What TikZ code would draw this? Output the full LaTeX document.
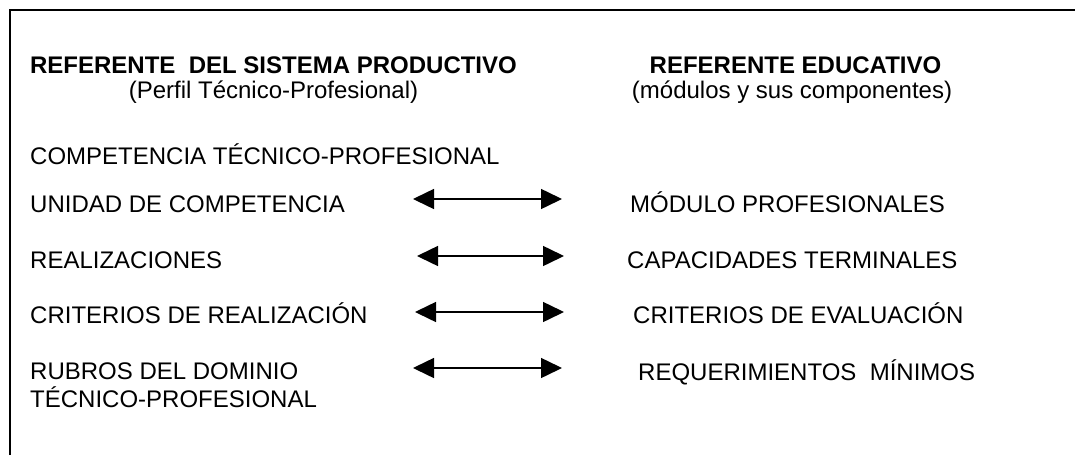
\documentclass[tikz,border=0pt]{standalone}
\usepackage{fontspec}
\setmainfont{Liberation Sans}
\usetikzlibrary{arrows.meta}
\begin{document}
\begin{tikzpicture}[x=1pt,y=-1pt,
  txt/.style={inner sep=0pt, anchor=base west, font=\fontsize{24}{27.6}\selectfont},
  ttl/.style={inner sep=0pt, anchor=base, font=\fontsize{24}{27.6}\selectfont\bfseries},
  sub/.style={inner sep=0pt, anchor=base, font=\fontsize{24}{27.6}\selectfont},
  rel/.style={line width=1.5pt, {Triangle[length=21pt,width=20pt]}-{Triangle[length=21pt,width=20pt]}}]
\useasboundingbox (0,0) rectangle (1075,455);
\draw[line width=2pt] (9.5,455) -- (9.5,9.5) -- (1075,9.5);
% headings
\node[ttl] (tl) at (273.5,73) {REFERENTE\ \ DEL SISTEMA PRODUCTIVO};
\node[sub] (sl) at (273.5,98) {(Perfil Técnico-Profesional)};
\node[ttl] (tr) at (795.5,73) {REFERENTE EDUCATIVO};
\node[sub] (sr) at (792,98) {(módulos y sus componentes)};
% left column
\node[txt] (comp) at (30,164) {COMPETENCIA TÉCNICO-PROFESIONAL};
\node[txt] (unid) at (30,212) {UNIDAD DE COMPETENCIA};
\node[txt] (real) at (30,268) {REALIZACIONES};
\node[txt] (crit) at (30,323) {CRITERIOS DE REALIZACIÓN};
\node[txt] (rub1) at (30,379) {RUBROS DEL DOMINIO};
\node[txt] (rub2) at (30,407) {TÉCNICO-PROFESIONAL};
% right column
\node[txt] (mod) at (630,212) {MÓDULO PROFESIONALES};
\node[txt] (cap) at (627,268) {CAPACIDADES TERMINALES};
\node[txt] (eval) at (633,323) {CRITERIOS DE EVALUACIÓN};
\node[txt] (req) at (638,380) {REQUERIMIENTOS\ \ MÍNIMOS};
% arrow ends
\coordinate (a1l) at (413,199); \coordinate (a1r) at (562,199);
\coordinate (a2l) at (417,256); \coordinate (a2r) at (564,256);
\coordinate (a3l) at (415,312); \coordinate (a3r) at (564,312);
\coordinate (a4l) at (413,368); \coordinate (a4r) at (562,368);
\draw[rel] (a1l) -- (a1r);
\draw[rel] (a2l) -- (a2r);
\draw[rel] (a3l) -- (a3r);
\draw[rel] (a4l) -- (a4r);
\end{tikzpicture}
\end{document}
